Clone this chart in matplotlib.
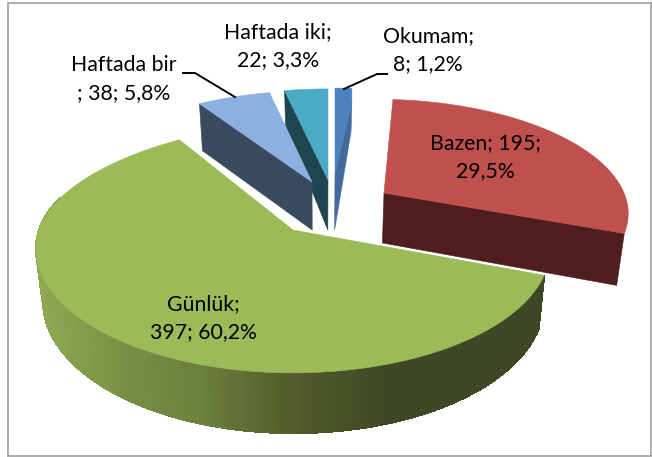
import numpy as np
import matplotlib
matplotlib.use("Agg")
import matplotlib.pyplot as plt
from matplotlib.patches import Polygon, Rectangle
from matplotlib.colors import to_rgb

# --- data ---
categories = ["Okumam", "Bazen", "Günlük", "Haftada bir", "Haftada iki"]
counts = [8, 195, 397, 38, 22]
label_texts = ["Okumam;\n8; 1,2%", "Bazen; 195;\n29,5%", "Günlük;\n397; 60,2%",
               "Haftada bir\n; 38; 5,8%", "Haftada iki;\n22; 3,3%"]

# --- layout and style ---
K = 0.153
VX, SHRINK = 320, 0.975
tips = [(335, 174), (384, 193), (293, 230), (312, 182), (328, 180)]
radii_x = [255, 240, 254, 235, 240]
radii_y = [99, 108, 121, 105, 105]
shears = [0, 0.074, 0, 0, 0]
back_taper = [0, 0, 0.094, 0, 0]
depth_tip = [56, 50, 51, 48, 50]
depth_out = [30, 52, 51, 47, 35]
rims = [13, 0, 0, 0, 0]
top_colors = ["#4f81bd", "#c0504d", "#9bbb59", "#8cb0e0", "#4babc5"]
side_colors = ["#426b9d", "#4f1f1f", "#3f4824", "#3a4a5e", "#1f4650"]
cut_side = ["end", "end", None, "start", "start"]
label_pos = [(428, 50), (485, 157), (203, 318), (124, 79), (278, 46)]
leaders = [[(387, 74), (377, 74), (344, 89)], [(183, 73), (195, 73), (235, 97)]]
grad_x = [36, 120, 200, 290, 385]
grad_c = ["#8fa952", "#7a8f45", "#6c7f3c", "#525c2c", "#3f4824"]

fig = plt.figure(figsize=(6.52, 4.57), dpi=100)
ax = fig.add_axes([0, 0, 1, 1])
ax.set_xlim(0, 652)
ax.set_ylim(457, 0)
ax.axis("off")
ax.add_patch(Rectangle((8, 2.5), 642.5, 453.5, fc="white", ec="#a6a6a6", lw=1.3))

total = sum(counts)
edges = np.cumsum([0] + counts) / total * 2 * np.pi


def project(i, th):
    th = np.asarray(th, dtype=float)
    u, v = np.sin(th), -np.cos(th)
    w = 1 - K * v
    taper = 1 - back_taper[i] * np.minimum(v, 0) ** 2
    dy = radii_y[i] * v / w
    return tips[i][0] + radii_x[i] * u / w * taper + shears[i] * dy, tips[i][1] + dy, w


def base_x(x):
    return VX + (x - VX) * SHRINK


def poly(pts, color, z, aa=True):
    ax.add_patch(Polygon(pts, closed=True, fc=color, ec=color, lw=0.8 if not aa else 0.4,
                         zorder=z, antialiased=aa))


for i in [1, 0, 4, 3, 2]:
    a0, a1 = edges[i], edges[i + 1]
    th = np.linspace(a0, a1, max(4, int(np.degrees(a1 - a0))))
    x, y, w = project(i, th)
    tx, ty = tips[i]
    z = 2 + [1, 0, 4, 3, 2].index(i) * 2

    if cut_side[i] is not None:
        k = -1 if cut_side[i] == "end" else 0
        ox, oy = x[k], y[k] + rims[i]
        poly([(tx, ty), (ox, oy), (base_x(ox), oy + depth_out[i]),
              (base_x(tx), ty + depth_tip[i])], side_colors[i], z)
    else:
        # curved outer wall with a horizontal shading gradient
        wall = np.radians(np.arange(np.degrees(a0), 286, 1.0))
        wall = np.append(wall, np.radians(286))
        xs, ys, ws = project(i, wall)
        xb, yb = base_x(xs), ys + depth_tip[i] / ws
        rgb = np.array([to_rgb(c) for c in grad_c])
        for j in range(len(wall) - 1):
            xm = 0.5 * (xs[j] + xs[j + 1])
            col = [np.interp(xm, grad_x, rgb[:, n]) for n in range(3)]
            poly([(xs[j], ys[j]), (xs[j + 1], ys[j + 1]),
                  (xb[j + 1], yb[j + 1]), (xb[j], yb[j])], col, z, aa=False)

    top = [(tx, ty)] + list(zip(x, y))
    if rims[i]:
        top.append((x[-1], y[-1] + rims[i]))
    poly(top, top_colors[i], z + 1)

for pts in leaders:
    xs, ys = zip(*pts)
    ax.plot(xs, ys, color="black", lw=1.4, solid_joinstyle="miter", zorder=20)

for text, (lx, ly) in zip(label_texts, label_pos):
    ax.text(lx, ly, text, ha="center", va="center", multialignment="center",
            family="Lato", fontsize=15.3, linespacing=1.45, color="black", zorder=30)

fig.savefig("out.png", dpi=100)
